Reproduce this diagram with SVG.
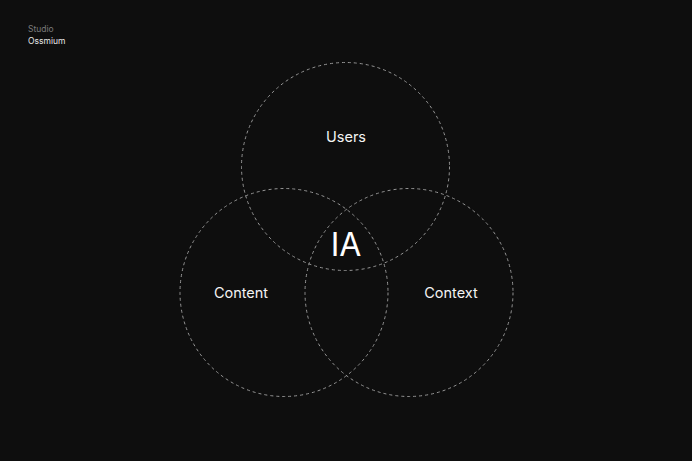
<svg xmlns="http://www.w3.org/2000/svg" width="692" height="461" viewBox="0 0 692 461">
<style>
.ring{fill:none;stroke:#959595;stroke-width:1;stroke-dasharray:3 3}
.lbl{font-family:Inter,"Noto Sans",sans-serif;font-size:14.5px;fill:#f4f4f4;text-anchor:middle}
</style>
<rect width="692" height="461" fill="#0e0e0e"/>
<text x="28" y="32" font-family="Inter,sans-serif" font-size="8.5" fill="#7a7a7a">Studio</text>
<text x="28" y="44" font-family="Inter,sans-serif" font-size="8.5" fill="#e6e6e6">Ossmium</text>
<g id="users"><circle class="ring" cx="345.5" cy="166.5" r="104"/><text class="lbl" x="346" y="142">Users</text></g>
<g id="content"><circle class="ring" cx="284" cy="292.5" r="104"/><text class="lbl" x="241" y="298">Content</text></g>
<g id="context"><circle class="ring" cx="409" cy="292.5" r="104"/><text class="lbl" x="451" y="298">Context</text></g>
<g id="ia"><text x="346" y="256" font-family="Inter,sans-serif" font-size="32" fill="#ffffff" text-anchor="middle">IA</text></g>
<g id="connectors"/>
</svg>
